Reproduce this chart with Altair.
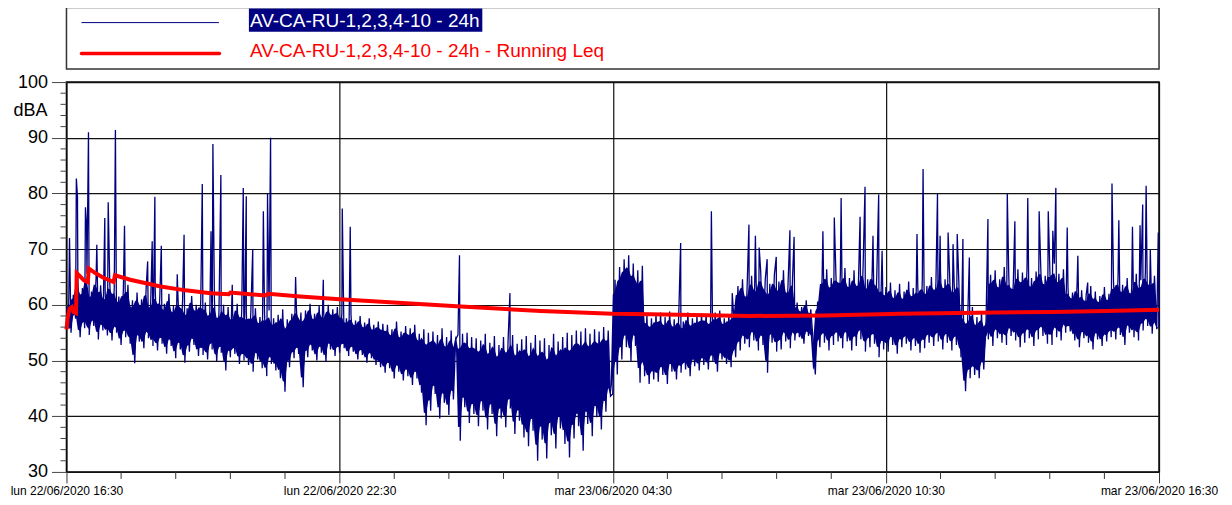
import json
import altair as alt
import pandas as pd

# ---------------- data (dBA) ----------------
# 3-minute samples, one list per hour starting lun 22/06/2020 16:30
h00 = [56.5, 60.2, 55.0, 61.8, 57.5, 64.5, 54.2, 63.0, 55.8, 65.6, 54.6, 62.4, 56.2, 64.8, 53.8, 63.5, 55.4, 62.0, 54.5, 64.2]
h01 = [53.6, 63.2, 55.0, 61.5, 52.8, 62.8, 54.2, 63.6, 53.0, 60.8, 49.5, 62.2, 53.4, 61.0, 52.2, 63.0, 54.0, 60.5, 52.6, 62.4]
h02 = [51.8, 61.4, 53.0, 60.2, 51.2, 62.0, 52.6, 59.8, 50.4, 61.2, 52.0, 60.6, 49.6, 59.4, 51.6, 61.6, 52.8, 60.0, 50.8, 60.8]
h03 = [51.0, 60.4, 50.2, 59.2, 52.0, 60.8, 49.8, 58.8, 51.4, 60.0, 48.2, 59.6, 50.6, 58.4, 51.2, 60.2, 49.4, 59.0, 50.0, 58.6]
h04 = [49.2, 58.8, 48.0, 59.4, 50.2, 57.8, 48.6, 58.6, 47.2, 59.0, 49.4, 57.6, 48.2, 58.2, 46.8, 59.2, 44.4, 57.4, 48.8, 58.4]
h05 = [50.4, 59.6, 51.2, 58.6, 45.2, 59.0, 50.6, 60.2, 51.8, 58.4, 50.0, 59.8, 51.4, 58.8, 49.8, 60.0, 52.0, 59.2, 50.8, 59.6]
h06 = [51.4, 58.6, 52.2, 57.6, 50.8, 58.2, 51.6, 57.2, 50.2, 58.0, 51.0, 56.8, 49.6, 57.6, 50.4, 56.4, 49.2, 57.0, 48.8, 56.6]
h07 = [47.8, 56.4, 48.6, 55.6, 46.8, 57.0, 48.0, 55.2, 46.4, 56.2, 47.2, 55.8, 45.6, 56.4, 46.8, 54.8, 44.2, 55.6, 38.4, 55.0]
h08 = [41.0, 55.2, 44.0, 54.6, 39.6, 55.8, 42.4, 54.2, 40.2, 55.4, 43.0, 53.8, 54.6, 35.6, 54.8, 41.6, 55.0, 38.8, 54.2, 40.4]
h09 = [54.0, 38.2, 53.6, 41.0, 54.8, 37.6, 53.2, 40.4, 54.4, 36.4, 52.8, 39.6, 54.2, 38.0, 53.4, 41.4, 54.6, 36.8, 53.0, 39.2]
h10 = [53.8, 36.2, 54.4, 34.6, 53.2, 37.4, 54.6, 32.0, 53.6, 35.8, 54.0, 32.4, 52.8, 36.6, 54.8, 34.2, 53.4, 37.8, 54.2, 35.0]
h11 = [55.0, 32.6, 54.6, 36.0, 55.4, 38.2, 55.2, 33.8, 55.8, 38.6, 54.8, 36.4, 55.6, 39.8, 55.2, 37.6, 56.0, 40.8, 55.4, 43.6]
h12 = [44.0, 64.5, 47.5, 66.8, 50.2, 68.2, 52.4, 68.9, 49.8, 67.4, 52.6, 66.2, 46.0, 67.0, 47.2, 58.2, 45.8, 57.6, 46.6, 58.4]
h13 = [46.2, 58.6, 47.4, 57.8, 45.8, 58.8, 48.0, 57.4, 46.6, 58.2, 47.8, 57.0, 48.4, 58.6, 47.2, 57.6, 49.0, 58.0, 48.2, 58.4]
h14 = [49.2, 58.4, 48.4, 57.8, 49.8, 58.6, 48.0, 59.0, 50.2, 57.6, 49.4, 58.2, 48.8, 58.8, 50.6, 63.4, 51.8, 64.6, 53.0, 62.8]
h15 = [52.4, 65.2, 53.6, 64.0, 51.8, 66.0, 52.8, 64.6, 47.8, 63.8, 53.2, 65.4, 51.6, 64.2, 52.0, 66.2, 53.4, 63.6, 52.2, 65.0]
h16 = [53.6, 60.4, 54.2, 59.6, 53.0, 60.8, 54.4, 59.2, 53.8, 47.5, 60.6, 52.4, 65.4, 53.2, 66.4, 51.8, 64.8, 52.8, 66.0, 53.4]
h17 = [65.6, 52.2, 66.6, 53.4, 64.8, 51.8, 66.2, 52.6, 65.0, 53.8, 67.0, 51.6, 64.6, 52.4, 66.4, 53.0, 65.2, 50.6, 64.0, 52.0]
h18 = [63.2, 51.6, 64.0, 52.8, 62.6, 51.2, 63.8, 52.4, 62.4, 53.0, 64.2, 51.8, 63.0, 52.6, 63.6, 51.4, 64.4, 52.2, 63.4, 53.2]
h19 = [65.0, 52.6, 64.2, 53.4, 66.0, 52.0, 64.6, 53.2, 65.4, 51.8, 63.8, 52.8, 64.8, 50.6, 59.2, 44.5, 58.4, 46.8, 59.6, 47.4]
h20 = [57.8, 46.8, 58.6, 48.4, 57.2, 53.8, 65.4, 52.6, 66.2, 54.0, 64.6, 53.2, 66.8, 52.8, 65.0, 54.4, 64.2, 53.6, 66.4, 52.4]
h21 = [65.8, 53.2, 66.6, 54.0, 64.8, 52.6, 66.0, 53.8, 67.2, 54.4, 65.2, 53.0, 66.8, 52.8, 67.4, 54.2, 65.6, 53.6, 66.4, 55.0]
h22 = [63.0, 55.2, 62.2, 53.6, 63.8, 52.4, 62.6, 54.0, 61.8, 53.2, 63.4, 52.0, 62.4, 53.8, 61.6, 52.6, 63.2, 53.4, 62.0, 54.2]
h23 = [64.2, 53.8, 65.0, 54.6, 63.6, 52.8, 64.8, 55.0, 63.2, 54.2, 65.6, 53.6, 64.4, 55.4, 66.0, 56.2, 64.8, 54.8, 65.2, 55.6, 56.0]
SAMPLE_STEP_MIN = 3

# short peaks (minutes after 16:30, dBA)
spike_min = [4, 13, 14.5, 25, 26.5, 29, 40, 50.5, 55,
             64.5, 76.5, 107, 113, 116.5,
             125, 146, 155, 179,
             190.5, 193, 203.5, 218.5, 233, 237,
             245.5, 259.5, 265, 269, 302,
             338.5, 363.5, 374, 518, 584.5, 809.5, 850, 877.5,
             899.5, 908, 913, 923.5, 935.5, 953.5, 959,
             997, 1012, 1021, 1046, 1052.5, 1063, 1070.5, 1075,
             1121, 1129, 1148, 1151.5, 1162, 1168.5, 1174,
             1181.5, 1190, 1214.5, 1240, 1250,
             1267, 1282, 1294, 1300, 1304,
             1319, 1333, 1346,
             1378, 1387, 1405, 1415, 1418.5, 1423, 1428.5, 1439]
spike_db = [72.0, 82.7, 79.4, 77.5, 74.0, 91.0, 70.8, 75.6, 78.4,
            91.4, 74.2, 67.8, 71.4, 79.4,
            70.6, 65.5, 72.6, 81.7,
            73.2, 88.9, 83.3, 63.6, 81.0, 79.5,
            70.0, 76.8, 80.0, 90.0, 65.0,
            64.5, 77.3, 74.0, 68.9, 62.1, 71.1, 76.8, 62.1,
            74.4, 72.4, 70.3, 68.2, 68.6, 73.4, 72.2,
            73.2, 75.7, 79.2, 75.8, 81.2, 72.4, 79.8, 69.7,
            72.7, 84.4, 79.9, 72.4, 73.0, 70.9, 72.7,
            71.8, 68.5, 75.4, 80.0, 75.0,
            79.2, 76.8, 76.8, 73.3, 81.0,
            73.9, 68.8, 64.0,
            81.8, 75.2, 74.0, 74.3, 78.0, 81.4, 69.9, 73.0]

# running Leq (minutes after 16:30, dBA)
leq_min = [0, 1.5, 4, 7, 9.5, 12.5, 13.5, 18, 23, 28, 29.5, 38, 48, 62, 64, 84, 124, 157,
           190, 214, 216, 262, 266, 308, 360, 520, 625, 720, 770, 900, 1000, 1100, 1200,
           1300, 1370, 1440]
leq_db = [55.6, 57.6, 59.3, 59.6, 58.7, 58.5, 65.7, 65.1, 64.4, 64.1, 66.5, 65.7, 64.9, 64.1,
          65.3, 64.5, 63.3, 62.6, 62.1, 61.9, 62.2, 61.7, 62.0, 61.5, 61.0, 59.7, 58.9, 58.4,
          58.3, 58.0, 58.1, 58.4, 58.6, 58.7, 58.9, 59.1]

x_tick_min = [0, 360, 720, 1080, 1440]
x_labels = ["lun 22/06/2020 16:30", "lun 22/06/2020 22:30", "mar 23/06/2020 04:30",
            "mar 23/06/2020 10:30", "mar 23/06/2020 16:30"]
x_minor_min = [72, 144, 216, 288, 432, 504, 576, 648, 792, 864, 936, 1008,
               1152, 1224, 1296, 1368]
y_ticks = [30, 40, 50, 60, 70, 80, 90, 100]
y_minor = [32, 34, 36, 38, 42, 44, 46, 48, 52, 54, 56, 58, 62, 64, 66, 68,
           72, 74, 76, 78, 82, 84, 86, 88, 92, 94, 96, 98]

series_name = "AV-CA-RU-1,2,3,4-10 - 24h"
leq_name = "AV-CA-RU-1,2,3,4-10 - 24h - Running Leq"

# ---------------- tables ----------------
band_db = [v for h in [h00, h01, h02, h03, h04, h05, h06, h07, h08, h09, h10, h11,
                       h12, h13, h14, h15, h16, h17, h18, h19, h20, h21, h22, h23] for v in h]
band_min = [SAMPLE_STEP_MIN * i for i in range(len(band_db))]
band = pd.DataFrame({"t": band_min, "db": band_db})
blue = pd.DataFrame({"t": band_min + spike_min, "db": band_db + spike_db}).sort_values("t")
red = pd.DataFrame({"t": leq_min, "db": leq_db})
one = pd.DataFrame({"a": [0]})

W, H = 1093, 390
FONT = "Liberation Sans"
NAVY = "#000080"

xscale = alt.Scale(domain=[0, 1440], nice=False, zero=False)
yscale = alt.Scale(domain=[30, 100], nice=False, zero=False)
label_expr = json.dumps(x_labels) + "[round(datum.value/360)]"
xaxis = alt.Axis(values=x_tick_min, labelExpr=label_expr, grid=True, gridColor="#111111",
                 gridWidth=1.2, tickSize=11, tickColor="#333333", tickWidth=1,
                 labelFontSize=12, labelFont=FONT, labelColor="black", labelPadding=3,
                 labelOverlap=False, labelBound=False, labelFlush=False, domain=False,
                 title=None)
yaxis = alt.Axis(values=y_ticks, grid=True, gridColor="#111111", gridWidth=1.2,
                 tickSize=15, tickColor="#444444", tickWidth=1, labelFontSize=18,
                 labelFont=FONT, labelColor="black", labelPadding=4, domain=False,
                 title=None)

X = lambda f: alt.X(f, scale=xscale, axis=xaxis)
Y = lambda f: alt.Y(f, scale=yscale, axis=yaxis)

# dense core of the band: inner part of the range between neighbouring samples
band_fill = alt.Chart(band).transform_window(
    lo="min(db)", hi="max(db)", frame=[0, 1], sort=[alt.SortField("t")]
).transform_calculate(
    c_lo="datum.lo + 0.13 * (datum.hi - datum.lo)",
    c_hi="datum.hi - 0.13 * (datum.hi - datum.lo)",
).mark_area(color=NAVY, opacity=1, interpolate="linear").encode(
    x=X("t:Q"), y=Y("c_lo:Q"), y2="c_hi:Q")
blue_line = alt.Chart(blue).mark_line(color=NAVY, strokeWidth=1.3).encode(
    x=X("t:Q"), y=Y("db:Q"))
red_line = alt.Chart(red).mark_line(color="#ff0000", strokeWidth=4).encode(
    x=X("t:Q"), y=Y("db:Q"))

y_minor_ticks = alt.Chart(pd.DataFrame({"v": y_minor})).mark_rule(
    color="#444444", strokeWidth=1).encode(
    y=Y("v:Q"), x=alt.value(-6), x2=alt.value(0))
x_minor_ticks = alt.Chart(pd.DataFrame({"m": x_minor_min})).mark_rule(
    color="#333333", strokeWidth=1).encode(
    x=X("m:Q"), y=alt.value(H), y2=alt.value(H + 7))

dba = alt.Chart(one).mark_text(text="dBA", font=FONT, fontSize=18, align="right",
                               baseline="middle", color="black").encode(
    x=alt.value(-19), y=alt.value(29))

# legend box
leg_box = alt.Chart(one).mark_rect(fill="white", stroke="#333333", strokeWidth=1.5).encode(
    x=alt.value(0), x2=alt.value(W), y=alt.value(-74.5), y2=alt.value(-13))
leg_blue = alt.Chart(one).mark_rule(color=NAVY, strokeWidth=1).encode(
    x=alt.value(15), x2=alt.value(152.5), y=alt.value(-59.5), y2=alt.value(-59.5))
leg_red = alt.Chart(one).mark_rule(color="#ff0000", strokeWidth=3.5, strokeCap="round").encode(
    x=alt.value(15), x2=alt.value(153), y=alt.value(-28.7), y2=alt.value(-28.7))
leg_hl = alt.Chart(one).mark_rect(fill=NAVY).encode(
    x=alt.value(182.5), x2=alt.value(416), y=alt.value(-73.7), y2=alt.value(-50.3))
leg_t1 = alt.Chart(one).mark_text(text=series_name, font=FONT, fontSize=19, align="left",
                                  baseline="alphabetic", color="white").encode(
    x=alt.value(183.5), y=alt.value(-55.3))
leg_t2 = alt.Chart(one).mark_text(text=leq_name, font=FONT, fontSize=19, align="left",
                                  baseline="alphabetic", color="#ff0000").encode(
    x=alt.value(183.5), y=alt.value(-25.3))

chart = alt.layer(
    band_fill, blue_line, red_line, y_minor_ticks, x_minor_ticks, dba,
    leg_box, leg_blue, leg_red, leg_hl, leg_t1, leg_t2
).properties(
    width=W, height=H,
    autosize=alt.AutoSizeParams(type="none"),
    padding={"left": 58.5, "top": 74, "right": 65, "bottom": 30},
    background="white",
).configure_view(stroke="black", strokeWidth=1.5)

chart.save("out.html", embed_options={"renderer": "svg", "actions": False})
